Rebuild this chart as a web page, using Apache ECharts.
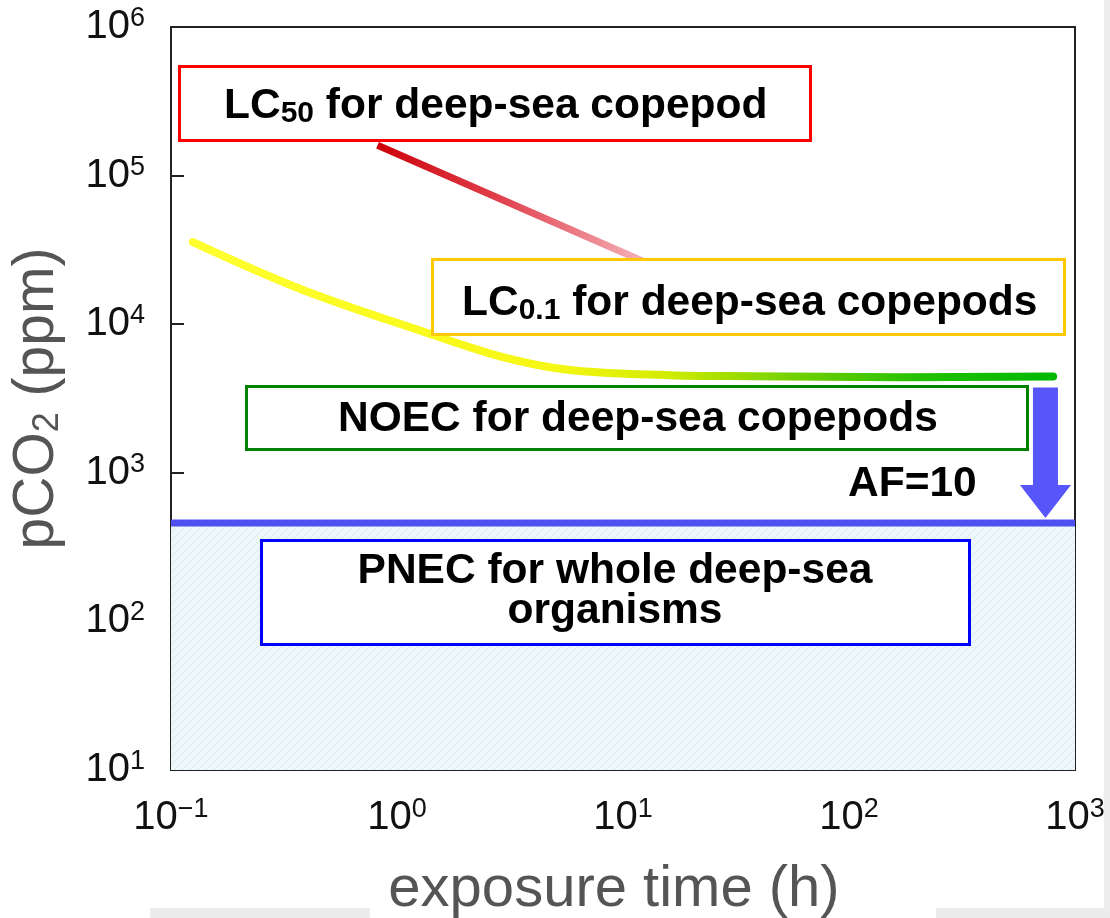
<!DOCTYPE html>
<html lang="en">
<head>
    <meta charset="UTF-8">
    <title>pCO2 toxicity</title>
    <script src="https://cdn.jsdelivr.net/npm/echarts@6/dist/echarts.min.js"></script>
    <style type="text/css">
        html, body { margin: 0; padding: 0; background: #fff; }
        #main { width: 1110px; height: 918px; }
    </style>
</head>
<body>
<div id="main"></div>
<script type="text/javascript">
    // exposure time (h) / pCO2 (ppm)
    var lc50Time = [0.82, 13];
    var lc50Value = [160000, 25500];

    var lc01Time = [0.125, 0.384, 1.36, 2.94, 5.82, 16.1, 36.5, 168, 800];
    var lc01Value = [35700, 17000, 8730, 6010, 4920, 4540, 4470, 4400, 4450];

    var noecValue = 4450;
    var pnecValue = 460;
    var pnecTime = [0.1, 1000];
    var arrowTime = 740;

    var xRange = [0.1, 1000];
    var yRange = [10, 1000000];

    function pairs(xs, ys) {
        var out = [];
        for (var i = 0; i < xs.length; i++) out.push([xs[i], ys[i]]);
        return out;
    }

    // hatched light-blue fill below PNEC
    var hatch = document.createElement('canvas');
    hatch.width = 8; hatch.height = 8;
    var hc = hatch.getContext('2d');
    hc.fillStyle = '#eef8fa';
    hc.fillRect(0, 0, 8, 8);
    hc.strokeStyle = '#d3ebf0';
    hc.lineWidth = 1;
    hc.beginPath();
    hc.moveTo(0, 8); hc.lineTo(8, 0);
    hc.moveTo(-4, 4); hc.lineTo(4, -4);
    hc.moveTo(4, 12); hc.lineTo(12, 4);
    hc.stroke();

    function powLabel(v) {
        var e = Math.round(Math.log10(v));
        return '{b|10}{s|' + (e < 0 ? '\u2212' + (-e) : e) + '}';
    }
    var tickRich = {
        b: { fontSize: 40, lineHeight: 44, color: '#111', fontFamily: 'Liberation Sans' },
        s: { fontSize: 27, lineHeight: 26, color: '#111', verticalAlign: 'top', fontFamily: 'Liberation Sans' }
    };

    var myChart = echarts.init(document.getElementById('main'));

    var option = {
        animation: false,
        backgroundColor: '#fff',
        grid: {
            left: 171, right: 35, top: 27, bottom: 148,
            outerBoundsMode: 'none', containLabel: false,
            show: true, borderColor: '#222', borderWidth: 2, backgroundColor: '#fff'
        },
        xAxis: {
            type: 'log', logBase: 10, min: xRange[0], max: xRange[1],
            name: 'exposure time (h)', nameLocation: 'middle', nameGap: 91,
            nameTextStyle: { fontSize: 58, color: '#555', fontFamily: 'Liberation Sans', padding: [0, 18, 0, 0] },
            axisLine: { lineStyle: { color: '#222', width: 2 } },
            axisTick: { inside: true, length: 12, lineStyle: { color: '#222', width: 2 } },
            minorTick: { show: false },
            splitLine: { show: false },
            axisLabel: { margin: 26, formatter: powLabel, rich: tickRich }
        },
        yAxis: {
            type: 'log', logBase: 10, min: yRange[0], max: yRange[1],
            name: 'pCO{sub|2} (ppm)', nameLocation: 'middle', nameGap: 105,
            nameTextStyle: {
                fontSize: 57, color: '#555', fontFamily: 'Liberation Sans',
                rich: {
                    sub: { fontSize: 36, color: '#555', fontFamily: 'Liberation Sans', verticalAlign: 'bottom', lineHeight: 36, padding: [32, 0, 0, 0] }
                }
            },
            axisLine: { lineStyle: { color: '#222', width: 2 } },
            axisTick: { inside: true, length: 13, lineStyle: { color: '#222', width: 2 } },
            splitLine: { show: false },
            axisLabel: { margin: 26, formatter: powLabel, rich: tickRich }
        },
        series: [
            {
                name: 'PNEC',
                type: 'line',
                data: pairs(pnecTime, [pnecValue, pnecValue]),
                symbol: 'none',
                z: 3,
                lineStyle: { color: '#5050f0', width: 7 },
                areaStyle: { origin: 'start', color: { image: hatch, repeat: 'repeat' }, opacity: 1 }
            },
            {
                name: 'LC50',
                type: 'line',
                data: pairs(lc50Time, lc50Value),
                symbol: 'none',
                z: 4,
                lineStyle: {
                    width: 7,
                    color: new echarts.graphic.LinearGradient(0, 0, 1, 0, [
                        { offset: 0, color: '#cc0008' },
                        { offset: 0.45, color: '#e0404c' },
                        { offset: 1, color: '#f6b8c0' }
                    ])
                }
            },
            {
                name: 'LC0.1',
                type: 'line',
                data: pairs(lc01Time, lc01Value),
                symbol: 'none',
                smooth: 0.35,
                z: 5,
                lineStyle: {
                    width: 8,
                    cap: 'round',
                    color: new echarts.graphic.LinearGradient(0, 0, 1, 0, [
                        { offset: 0, color: '#ffff30' },
                        { offset: 0.42, color: '#f6f714' },
                        { offset: 0.55, color: '#d2ec00' },
                        { offset: 0.7, color: '#70d000' },
                        { offset: 0.85, color: '#20c000' },
                        { offset: 1, color: '#00b800' }
                    ])
                }
            }
        ]
    };
    myChart.setOption(option);

    // annotation boxes
    var boldText = { fontSize: 42.5, fontWeight: 'bold', color: '#333', fontFamily: 'Liberation Sans' };
    var subRich = {
        b: { fontSize: 42.5, fontWeight: 'bold', color: '#333', fontFamily: 'Liberation Sans', lineHeight: 44, verticalAlign: 'top' },
        s: { fontSize: 30, fontWeight: 'bold', color: '#333', fontFamily: 'Liberation Sans', lineHeight: 30, verticalAlign: 'bottom', padding: [22, 0, 0, 0] }
    };

    function box(x, y, w, h, color) {
        return {
            type: 'rect', z: 100,
            shape: { x: x, y: y, width: w, height: h },
            style: { fill: '#fff', stroke: color, lineWidth: 3 }
        };
    }

    // arrow from NOEC down to PNEC
    var pTop = myChart.convertToPixel({ gridIndex: 0 }, [arrowTime, noecValue]);
    var pTip = myChart.convertToPixel({ gridIndex: 0 }, [arrowTime, pnecValue]);
    var cx = pTop[0], yTop = pTop[1] + 11, yTip = pTip[1] - 5;
    var headY = yTip - 33;

    myChart.setOption({
        graphic: [
            { type: 'rect', z: 0, shape: { x: 1104, y: 0, width: 6, height: 918 }, style: { fill: '#ededed' } },
            { type: 'rect', z: 0, shape: { x: 150, y: 908, width: 220, height: 10 }, style: { fill: '#ececec' } },
            { type: 'rect', z: 0, shape: { x: 936, y: 908, width: 174, height: 10 }, style: { fill: '#ececec' } },

            box(179.5, 66.5, 631, 74, '#ff0000'),
            {
                type: 'text', z: 101, x: 224, y: 85,
                style: { text: '{b|LC}{s|50}{b| for deep-sea copepod}', rich: subRich, verticalAlign: 'top' }
            },

            box(432.5, 259.5, 632, 75, '#ffc800'),
            {
                type: 'text', z: 101, x: 462, y: 282,
                style: { text: '{b|LC}{s|0.1}{b| for deep-sea copepods}', rich: subRich, verticalAlign: 'top' }
            },

            box(246.5, 386.5, 781, 63, '#008000'),
            {
                type: 'text', z: 101, x: 338, y: 397,
                style: Object.assign({ text: 'NOEC for deep-sea copepods', lineHeight: 44, verticalAlign: 'top' }, boldText)
            },

            box(261.5, 540.5, 708, 104, '#0000ff'),
            {
                type: 'text', z: 101, x: 615, y: 551,
                style: Object.assign({ text: 'PNEC for whole deep-sea\norganisms', lineHeight: 40, align: 'center', verticalAlign: 'top' }, boldText)
            },

            {
                type: 'text', z: 101, x: 848, y: 462,
                style: Object.assign({ text: 'AF=10', lineHeight: 44, verticalAlign: 'top' }, boldText)
            },

            {
                type: 'polygon', z: 90,
                shape: {
                    points: [
                        [cx - 12.5, yTop], [cx + 12.5, yTop], [cx + 12.5, headY],
                        [cx + 25.5, headY], [cx, yTip], [cx - 25.5, headY], [cx - 12.5, headY]
                    ]
                },
                style: { fill: '#5656fa' }
            }
        ]
    });
</script>
</body>
</html>
